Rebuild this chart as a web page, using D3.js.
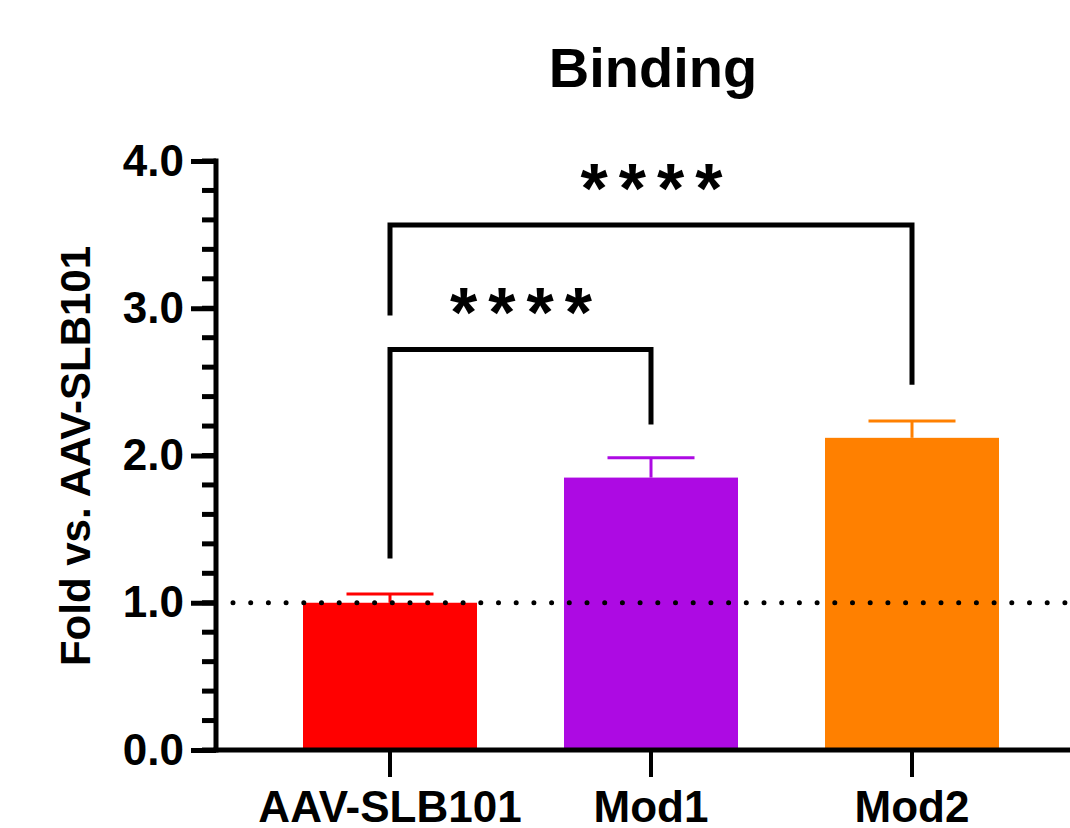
<!DOCTYPE html>
<html>
<head>
<meta charset="utf-8">
<script src="https://cdn.jsdelivr.net/npm/d3@7"></script>
<style>
  body { margin: 0; background: #fff; }
  svg { display: block; font-family: "Liberation Sans", Arial, sans-serif; font-weight: bold; }
</style>
</head>
<body>
<script>
const svgWidth = 1070,
    svgHeight = 828;

// chart data
const groups = ["AAV-SLB101", "Mod1", "Mod2"];
const means = [1.0, 1.85, 2.12];
const errors = [0.06, 0.135, 0.115];
const colors = ["#ff0000", "#ad0ae3", "#ff8000"];
const yTicks = [0, 1, 2, 3, 4];
const refLine = 1.0;

// significance brackets: from group, to group, bar height, leg ends
const sigFrom = [0, 0];
const sigTo = [1, 2];
const sigTop = [2.72, 3.565];
const sigLeftEnd = [1.30, 2.95];
const sigRightEnd = [2.21, 2.48];
const sigLabel = ["****", "****"];

const axisX = 216,
    axisY = 750,
    topY = 161;

var svg = d3.select("body").append("svg")
    .attr("width", svgWidth)
    .attr("height", svgHeight);

var x = d3.scaleBand()
    .domain(groups)
    .range([259.5, 1042.5])
    .paddingInner(1 / 3)
    .paddingOuter(1 / 6);

var y = d3.scaleLinear()
    .domain([0, 4])
    .range([axisY, topY]);

var cx = function (i) { return x(groups[i]) + x.bandwidth() / 2; };

// title
svg.append("text")
    .attr("x", 653)
    .attr("y", 87)
    .attr("text-anchor", "middle")
    .attr("font-size", 56)
    .text("Binding");

// y label
svg.append("text")
    .attr("transform", "translate(90, 456) rotate(-90)")
    .attr("text-anchor", "middle")
    .attr("font-size", 42)
    .text("Fold vs. AAV-SLB101");

// bars
var bars = svg.append("g").selectAll("g")
    .data(groups).enter()
    .append("g");

bars.append("rect")
    .attr("x", function (d) { return x(d); })
    .attr("width", x.bandwidth())
    .attr("y", function (d, i) { return y(means[i]); })
    .attr("height", function (d, i) { return y(0) - y(means[i]); })
    .attr("fill", function (d, i) { return colors[i]; });

// error bars (upper only)
bars.append("line")
    .attr("x1", function (d) { return x(d) + x.bandwidth() / 2; })
    .attr("x2", function (d) { return x(d) + x.bandwidth() / 2; })
    .attr("y1", function (d, i) { return y(means[i]); })
    .attr("y2", function (d, i) { return y(means[i] + errors[i]); })
    .attr("stroke", function (d, i) { return colors[i]; })
    .attr("stroke-width", 3);

bars.append("line")
    .attr("x1", function (d) { return x(d) + x.bandwidth() / 4; })
    .attr("x2", function (d) { return x(d) + x.bandwidth() * 3 / 4; })
    .attr("y1", function (d, i) { return y(means[i] + errors[i]); })
    .attr("y2", function (d, i) { return y(means[i] + errors[i]); })
    .attr("stroke", function (d, i) { return colors[i]; })
    .attr("stroke-width", 3);

// dotted reference line
svg.append("line")
    .attr("x1", 233)
    .attr("x2", svgWidth + 5)
    .attr("y1", y(refLine))
    .attr("y2", y(refLine))
    .attr("stroke", "#000")
    .attr("stroke-width", 5)
    .attr("stroke-linecap", "round")
    .attr("stroke-dasharray", "0 17.7");

// y axis with minor ticks
var yAxis = svg.append("g")
    .attr("transform", "translate(" + axisX + ",0)");

yAxis.selectAll(".minor")
    .data(d3.range(0, 4.01, 0.2)).enter()
    .append("line")
    .attr("x1", -14)
    .attr("x2", 0)
    .attr("y1", function (d) { return y(d); })
    .attr("y2", function (d) { return y(d); })
    .attr("stroke", "#000")
    .attr("stroke-width", 5);

yAxis.call(d3.axisLeft(y)
        .tickValues(yTicks)
        .tickSize(25)
        .tickPadding(7)
        .tickFormat(d3.format(".1f")))
    .call(function (g) {
        g.select(".domain").remove();
        g.selectAll(".tick line").attr("stroke-width", 5);
        g.selectAll(".tick text")
            .attr("font-size", 44)
            .attr("font-family", "Liberation Sans, Arial, sans-serif")
            .attr("font-weight", "bold")
            .attr("fill", "#000");
    });

yAxis.append("line")
    .attr("x1", 0).attr("x2", 0)
    .attr("y1", topY - 2.5)
    .attr("y2", axisY + 2.5)
    .attr("stroke", "#000")
    .attr("stroke-width", 5);

// x axis
var xAxis = svg.append("g")
    .attr("transform", "translate(0," + axisY + ")");

xAxis.call(d3.axisBottom(x).tickSize(27).tickPadding(14))
    .call(function (g) {
        g.select(".domain").remove();
        g.selectAll(".tick line").attr("stroke-width", 4);
        g.selectAll(".tick text")
            .attr("font-size", 44)
            .attr("font-family", "Liberation Sans, Arial, sans-serif")
            .attr("font-weight", "bold")
            .attr("fill", "#000");
    });

xAxis.append("line")
    .attr("x1", axisX - 2.5)
    .attr("x2", svgWidth)
    .attr("y1", 0).attr("y2", 0)
    .attr("stroke", "#000")
    .attr("stroke-width", 5);

// significance brackets
var sig = svg.append("g").selectAll("g")
    .data(sigFrom).enter()
    .append("g");

sig.append("path")
    .attr("d", function (d, i) {
        return d3.line()([
            [cx(sigFrom[i]), y(sigLeftEnd[i])],
            [cx(sigFrom[i]), y(sigTop[i])],
            [cx(sigTo[i]), y(sigTop[i])],
            [cx(sigTo[i]), y(sigRightEnd[i])]
        ]);
    })
    .attr("fill", "none")
    .attr("stroke", "#000")
    .attr("stroke-width", 5);

sig.append("text")
    .attr("x", function (d, i) { return (cx(sigFrom[i]) + cx(sigTo[i])) / 2 + 6; })
    .attr("y", function (d, i) { return y(sigTop[i]) - 12; })
    .attr("text-anchor", "middle")
    .attr("font-size", 70)
    .attr("letter-spacing", 11)
    .text(function (d, i) { return sigLabel[i]; });
</script>
</body>
</html>
